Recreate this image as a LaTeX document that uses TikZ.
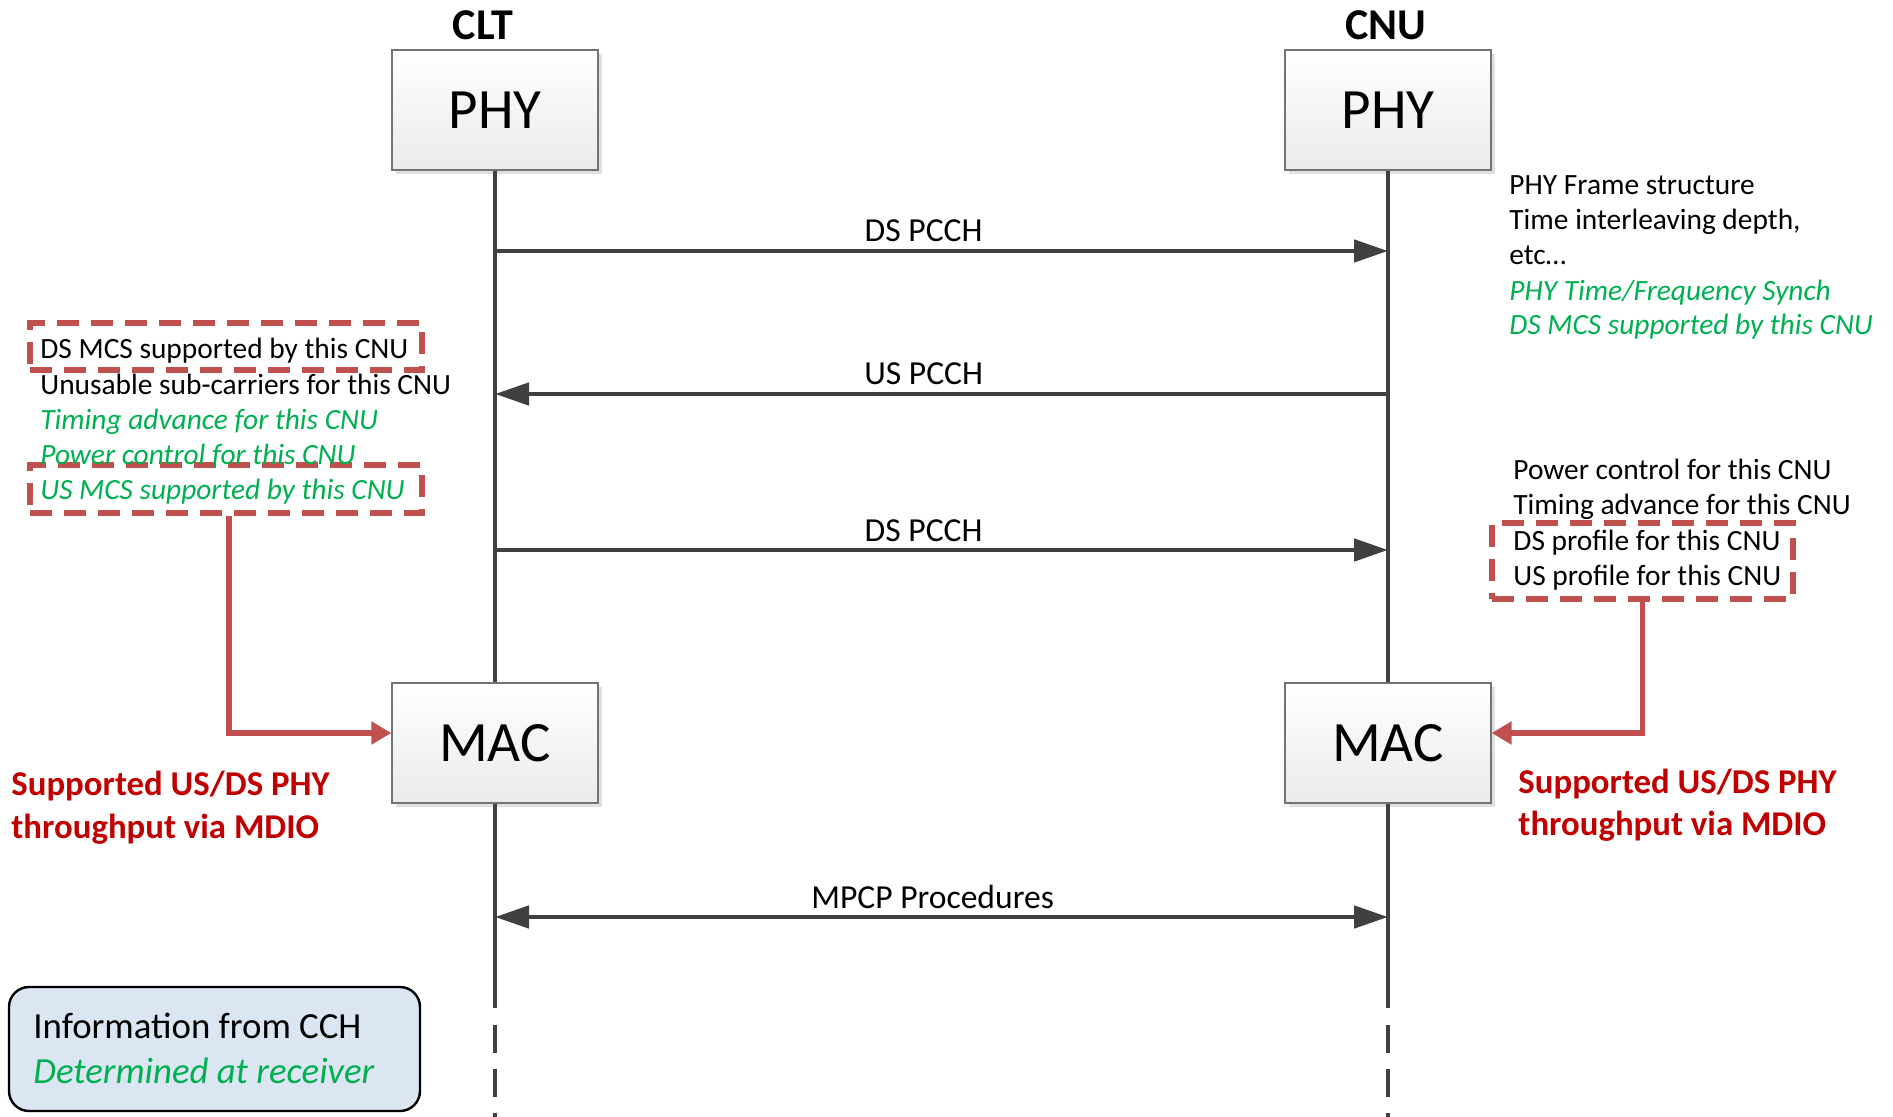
\documentclass[tikz,border=0pt]{standalone}
\usepackage{fontspec}
\setmainfont{Carlito}
\usetikzlibrary{arrows.meta,shadows}

\definecolor{linegray}{HTML}{404040}
\definecolor{hlred}{HTML}{C0504D}
\definecolor{txtred}{HTML}{C00000}
\definecolor{txtgreen}{HTML}{00B050}
\definecolor{legendfill}{HTML}{DCE6F2}

\begin{document}
\begin{tikzpicture}[
    x=0.5pt, y=-0.5pt,
    >={Triangle[length=17pt, width=11pt]},
    layer/.style={rectangle, draw=black!55, line width=0.6pt, top color=white, bottom color=black!8,
        minimum width=103pt, minimum height=60pt, inner sep=0pt, font=\fontsize{28.5}{32}\selectfont,
        drop shadow={shadow xshift=2pt, shadow yshift=-2pt, fill=black!12, opacity=1}},
    station/.style={anchor=base, inner sep=0pt, font=\fontsize{22}{26}\selectfont\bfseries},
    lifeline/.style={draw=linegray, line width=1.9pt},
    msg/.style={draw=linegray, line width=2.4pt},
    msglabel/.style={anchor=base, yshift=4.5pt, inner sep=0pt, font=\fontsize{16.8}{20}\selectfont},
    info/.style={anchor=base west, inner sep=0pt, font=\fontsize{14.7}{17.5}\selectfont},
    rx/.style={info, text=txtgreen, font=\fontsize{14.7}{17.5}\selectfont\itshape},
    hlbox/.style={rectangle, draw=hlred, line width=2.6pt, dash pattern=on 11pt off 6pt, inner sep=0pt},
    feed/.style={draw=hlred, line width=2.6pt, -{Triangle[length=10pt, width=11pt]}},
    mdio/.style={anchor=base west, inner sep=0pt, text=txtred, font=\fontsize{17.4}{20}\selectfont\bfseries}
]
    \useasboundingbox (0,0) rectangle (1893,1117);

    % stations
    \node [station] (clt) at (483,40) {CLT};
    \node [station] (cnu) at (1386,40) {CNU};
    \node [layer] (clt phy) at (495,110) {PHY};
    \node [layer] (cnu phy) at (1388,110) {PHY};
    \node [layer] (clt mac) at (495,743) {MAC};
    \node [layer] (cnu mac) at (1388,743) {MAC};

    % lifelines
    \coordinate (clt end) at (495,1008);
    \coordinate (cnu end) at (1388,1008);
    \coordinate (clt dash) at (495,1025);
    \coordinate (cnu dash) at (1388,1025);
    \coordinate (clt foot) at (495,1117);
    \coordinate (cnu foot) at (1388,1117);
    \draw [lifeline] (clt phy) -- (clt mac);
    \draw [lifeline] (cnu phy) -- (cnu mac);
    \draw [lifeline] (clt mac) -- (clt end);
    \draw [lifeline] (cnu mac) -- (cnu end);
    \draw [lifeline, dash pattern=on 14pt off 8pt] (clt dash) -- (clt foot);
    \draw [lifeline, dash pattern=on 14pt off 8pt] (cnu dash) -- (cnu foot);

    % messages
    \foreach \y/\msgname in {251/ds1, 394/us, 550/ds2, 917/mpcp} {
        \coordinate (clt \msgname) at (495,\y);
        \coordinate (cnu \msgname) at (1388,\y);
    }
    \draw [msg, ->] (clt ds1) -- node [msglabel, pos=0.48] {DS PCCH} (cnu ds1);
    \draw [msg, ->] (cnu us) -- node [msglabel, pos=0.52] {US PCCH} (clt us);
    \draw [msg, ->] (clt ds2) -- node [msglabel, pos=0.48] {DS PCCH} (cnu ds2);
    \draw [msg, <->] (clt mpcp) -- node [msglabel, pos=0.49] {MPCP Procedures} (cnu mpcp);

    % CLT side
    \node [hlbox, minimum width=196pt, minimum height=23.5pt] (clt dsmcs box) at (226,346.5) {};
    \node [hlbox, minimum width=196pt, minimum height=24pt] (clt usmcs box) at (226,489) {};
    \node [info] (clt l1) at (40,358) {DS MCS supported by this CNU};
    \node [info] (clt l2) at (40,394) {Unusable sub-carriers for this CNU};
    \node [rx] (clt l3) at (40,429) {Timing advance for this CNU};
    \node [rx] (clt l4) at (40,464) {Power control for this CNU};
    \node [rx] (clt l5) at (40,499) {US MCS supported by this CNU};
    \draw [feed] ([xshift=1.5pt]clt usmcs box.south) |- ([yshift=5pt]clt mac.west);
    \node [mdio] (clt mdio1) at (11,795) {Supported US/DS PHY};
    \node [mdio] (clt mdio2) at (11,838) {throughput via MDIO};

    % CNU side
    \node [info] (cnu l1) at (1509,195) {PHY Frame structure};
    \node [info] (cnu l2) at (1509,230) {Time interleaving depth,};
    \node [info] (cnu l3) at (1509,265) {etc\dots};
    \node [rx] (cnu l4) at (1509,300) {PHY Time/Frequency Synch};
    \node [rx] (cnu l5) at (1509,335) {DS MCS supported by this CNU};
    \node [hlbox, minimum width=150.5pt, minimum height=38pt] (cnu prof box) at (1642.5,561) {};
    \node [info] (cnu m1) at (1513,479) {Power control for this CNU};
    \node [info] (cnu m2) at (1513,514) {Timing advance for this CNU};
    \node [info] (cnu m3) at (1513,550) {DS profile for this CNU};
    \node [info] (cnu m4) at (1513,585) {US profile for this CNU};
    \draw [feed] (cnu prof box.south) |- ([yshift=5pt]cnu mac.east);
    \node [mdio] (cnu mdio1) at (1518,793) {Supported US/DS PHY};
    \node [mdio] (cnu mdio2) at (1518,835) {throughput via MDIO};

    % legend
    \node [rectangle, rounded corners=10pt, draw=black, line width=1.2pt, fill=legendfill,
        minimum width=205.5pt, minimum height=62pt] (legend) at (214.5,1049) {};
    \node [info, font=\fontsize{18.4}{22}\selectfont] (legend l1) at (33,1038) {Information from CCH};
    \node [rx, font=\fontsize{18.4}{22}\selectfont\itshape] (legend l2) at (33,1083) {Determined at receiver};
\end{tikzpicture}
\end{document}
